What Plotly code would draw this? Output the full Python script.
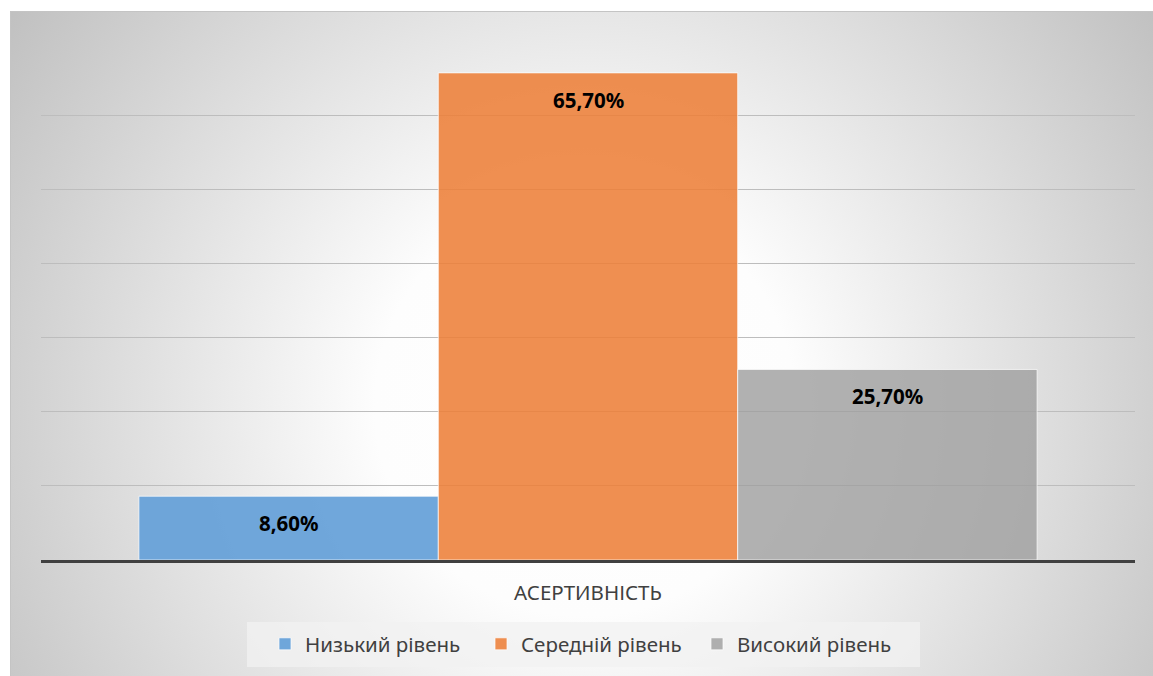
import base64
import plotly.graph_objects as go

categories = ["АСЕРТИВНІСТЬ"]
series_names = ["Низький рівень", "Середній рівень", "Високий рівень"]
series_values = [8.6, 65.7, 25.7]
series_colors = ["rgba(100,160,216,0.92)", "rgba(237,128,57,0.88)", "rgba(160,160,160,0.82)"]

W, H = 1153, 676
ML, MR, MT, MB = 41, 18, 41, 116
PW, PH = W - ML - MR, H - MT - MB

fig = go.Figure()
for name, val, col in zip(series_names, series_values, series_colors):
    fig.add_trace(go.Bar(
        x=categories, y=[val], name=name,
        marker=dict(color=col, line=dict(color="rgba(255,255,255,0.7)", width=1)),
    ))

# data labels near the top inside each bar
offsets = [-1, 0, 1]
for off, val in zip(offsets, series_values):
    label = f"{val:.2f}%".replace(".", ",")
    fig.add_annotation(
        x=0, xref="x", y=val, yref="y", xshift=off * 299.5, yshift=-27,
        text=f"<b>{label}</b>", showarrow=False,
        font=dict(family="Noto Sans", size=20.5, color="#000000"),
    )

# radial gradient background for the chart frame
svg = (
    '<svg xmlns="http://www.w3.org/2000/svg" width="1143" height="665" preserveAspectRatio="none" viewBox="0 0 1143 665">'
    '<defs><radialGradient id="g" gradientUnits="userSpaceOnUse" cx="575" cy="395" r="700" fx="575" fy="395">'
    '<stop offset="0" stop-color="#ffffff"/><stop offset="0.3" stop-color="#fdfdfd"/>'
    '<stop offset="1" stop-color="#c0c0c0"/></radialGradient></defs>'
    '<rect x="0" y="0" width="1143" height="665" fill="url(#g)"/></svg>'
)
uri = "data:image/svg+xml;base64," + base64.b64encode(svg.encode()).decode()
fx0, fy0, fx1, fy1 = 10, 11, 1153, 676
fig.add_layout_image(dict(
    source=uri, xref="paper", yref="paper",
    x=(fx0 - ML) / PW, y=(H - MB - fy0) / PH,
    sizex=(fx1 - fx0) / PW, sizey=(fy1 - fy0) / PH,
    xanchor="left", yanchor="top", sizing="stretch", layer="below",
))
fig.add_shape(type="rect", xref="paper", yref="paper",
              x0=(fx0 + 0.5 - ML) / PW, x1=(fx1 + 2 - ML) / PW,
              y0=(H - MB - fy1 - 2) / PH, y1=(H - MB - fy0 - 0.5) / PH,
              line=dict(color="#c4c4c4", width=1), fillcolor="rgba(0,0,0,0)", layer="below")
# legend box backdrop
fig.add_shape(type="rect", xref="paper", yref="paper",
              x0=(247 - ML) / PW, x1=(920 - ML) / PW,
              y0=(H - MB - 667) / PH, y1=(H - MB - 622) / PH,
              line=dict(width=0), fillcolor="rgba(242,242,242,0.75)", layer="below")

fig.update_layout(
    width=W, height=H,
    margin=dict(l=ML, r=MR, t=MT, b=MB),
    paper_bgcolor="#ffffff", plot_bgcolor="rgba(0,0,0,0)",
    barmode="group", bargap=0.179, bargroupgap=0.0,
    font=dict(family="Noto Sans", color="#404040"),
    legend=dict(
        orientation="h", x=(589 - ML) / PW, xanchor="center",
        y=(H - MB - 624) / PH, yanchor="top",
        bgcolor="rgba(0,0,0,0)",
        font=dict(family="Noto Sans", size=20.5, color="#404040"),
        entrywidth=171, itemwidth=30,
        traceorder="normal",
    ),
    xaxis=dict(
        showline=True, linecolor="#404040", linewidth=3,
        ticks="", showgrid=False,
        tickfont=dict(family="Noto Sans", size=20.5, color="#404040"),
        ticklabelstandoff=12,
    ),
    yaxis=dict(
        range=[0, 70], dtick=10, showticklabels=False,
        showgrid=True, gridcolor="#bdbdbd", gridwidth=1,
        zeroline=False, showline=False, ticks="",
    ),
)

fig.write_html("out.html")
